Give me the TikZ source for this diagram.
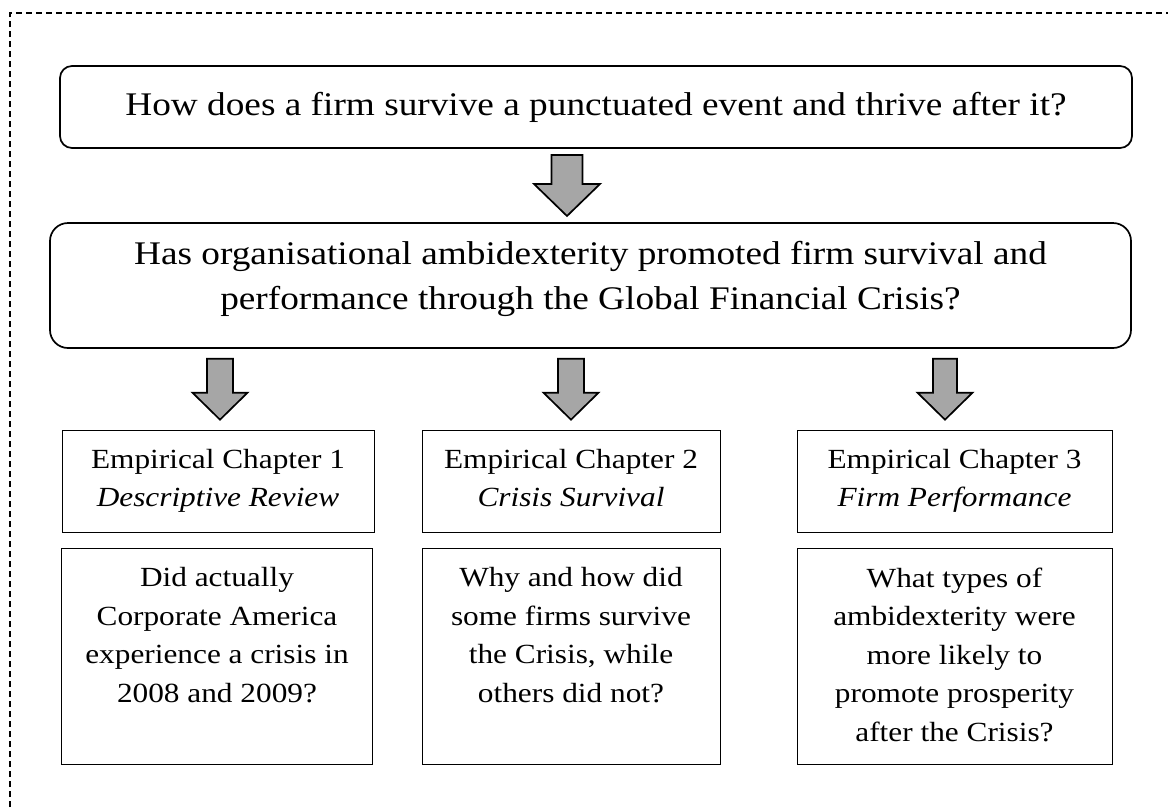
\documentclass[tikz,border=0pt]{standalone}
\usepackage{fontspec}
\setmainfont{Liberation Serif}[FakeStretch=1.13]
\usetikzlibrary{calc}
\definecolor{arrowgray}{RGB}{166,166,166}

\tikzset{
  question/.style={draw, line width=1.7pt, inner sep=0pt, align=center,
    font=\fontsize{33}{45}\selectfont},
  chapterbox/.style={draw, line width=1pt, inner sep=0pt, align=center,
    minimum height=102pt, font=\fontsize{27.7}{38}\selectfont},
  detailbox/.style={draw, line width=1pt, inner sep=0pt, minimum height=216pt},
  detailtext/.style={inner sep=0pt, anchor=north, align=center,
    font=\fontsize{27.7}{38.5}\selectfont},
  blockarrow/.style={draw, line width=1.7pt, fill=arrowgray, line join=miter},
}

% Hollow block arrow between two nodes, centred in the gap between them.
% #1 upper node, #2 lower node, #3 x position, #4 shaft half width,
% #5 head half width, #6 head length; total length 61pt
\newcommand\gapblockarrow[6]{%
  \coordinate (#1-#2-mid) at ($(#1.south)!0.5!(#2.north)$);
  \coordinate (#1-#2-c) at (#3,0 |- #1-#2-mid);
  \draw[blockarrow]
    ($(#1-#2-c)+(-#4,-30.5)$) -- ($(#1-#2-c)+(#4,-30.5)$)
    -- ($(#1-#2-c)+(#4,30.5-#6)$) -- ($(#1-#2-c)+(#5,30.5-#6)$)
    -- ($(#1-#2-c)+(0,30.5)$) -- ($(#1-#2-c)+(-#5,30.5-#6)$)
    -- ($(#1-#2-c)+(-#4,30.5-#6)$) -- cycle;
}

\begin{document}
\begin{tikzpicture}[x=1pt, y=-1pt]
  \useasboundingbox (0,0) rectangle (1168,807);

  % dashed frame (only its top and left sides fall inside the page)
  \draw[line width=1.5pt, dash pattern=on 6pt off 4pt]
    (10,807) -- (10,13) -- (1168,13);

  % overall and main research questions
  \node[question, rounded corners=12pt, minimum width=1072pt, minimum height=82pt]
    (q1) at (596,107) {How does a firm survive a punctuated event and thrive after it?};
  \node[question, rounded corners=18pt, minimum width=1081pt, minimum height=125pt]
    (q2) at (590.5,285.5) {Has organisational ambidexterity promoted firm survival and\\
      performance through the Global Financial Crisis?\rule[-20pt]{0pt}{1pt}};

  % empirical chapters
  \node[chapterbox, minimum width=312pt] (c1) at (218,481)
    {Empirical Chapter 1\\\textit{Descriptive Review}\vphantom{p}};
  \node[chapterbox, minimum width=298pt] (c2) at (571,481)
    {Empirical Chapter 2\\\textit{Crisis Survival}\vphantom{p}};
  \node[chapterbox, minimum width=315pt] (c3) at (954.5,481)
    {Empirical Chapter 3\\\textit{Firm Performance}\vphantom{p}};

  % chapter questions
  \node[detailbox, minimum width=311pt] (d1) at (217,656) {};
  \node[detailbox, minimum width=298pt] (d2) at (571,656) {};
  \node[detailbox, minimum width=315pt] (d3) at (954.5,656) {};
  \node[detailtext] (t1) at ($(d1.north)+(0,20)$)
    {Did actually\\Corporate America\\experience a crisis in\\2008 and 2009?};
  \node[detailtext] (t2) at ($(d2.north)+(0,20)$)
    {Why and how did\\some firms survive\\the Crisis, while\\others did not?};
  \node[detailtext] (t3) at ($(d3.north)+(0,20)$)
    {What types of\\ambidexterity were\\more likely to\\promote prosperity\\after the Crisis?};

  % block arrows
  \gapblockarrow{q1}{q2}{567}{15.5}{33}{32}
  \gapblockarrow{q2}{c1}{220}{13}{27.5}{27}
  \gapblockarrow{q2}{c2}{571}{13}{27.5}{27}
  \gapblockarrow{q2}{c3}{945}{12}{27.5}{27}
\end{tikzpicture}
\end{document}
